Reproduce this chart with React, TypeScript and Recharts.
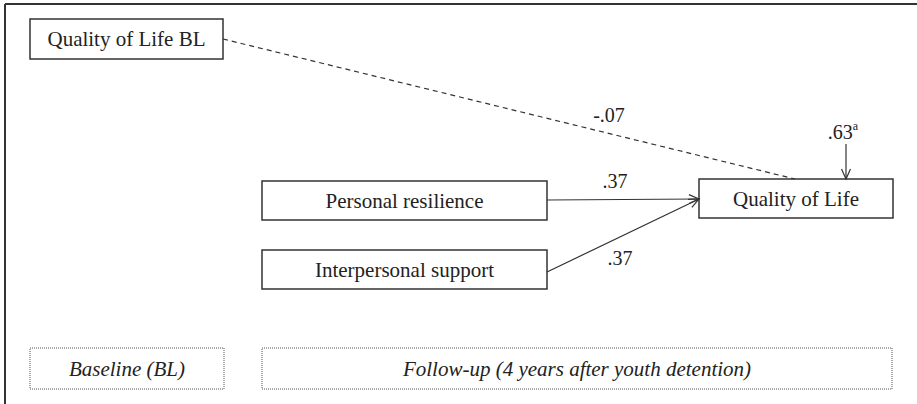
import React from 'react';
import { ComposedChart, XAxis, YAxis, ReferenceArea, ReferenceLine, ReferenceDot } from 'recharts';

// ---------- data ----------
const nodeNames = ['Quality of Life BL', 'Personal resilience', 'Interpersonal support', 'Quality of Life'];
const pathFrom = [0, 1, 2];
const pathTo = [3, 3, 3];
const pathCoefficients = ['-.07', '.37', '.37'];
const pathSignificant = [false, true, true];
const residualValue = '.63';
const residualNote = 'a';
const timeLabels = ['Baseline (BL)', 'Follow-up (4 years after youth detention)'];

// ---------- layout (chart units, linear axes) ----------
const W = 917;
const H = 404;
const nodeBoxes = [
  { x1: 30, x2: 223, y1: 19, y2: 59 },
  { x1: 262, x2: 547, y1: 181, y2: 220 },
  { x1: 262, x2: 547, y1: 250, y2: 289 },
  { x1: 699, x2: 893, y1: 179, y2: 218 },
];
const timeBoxes = [
  { x1: 30, x2: 224, y1: 348, y2: 389 },
  { x1: 262, x2: 892, y1: 348, y2: 389 },
];
const pathStarts = [{ x: 223, y: 39 }, { x: 547, y: 200 }, { x: 547, y: 272 }];
const pathEnds = [{ x: 795, y: 179 }, { x: 699, y: 199 }, { x: 699, y: 199 }];
const coefPositions = [{ x: 609, y: 122 }, { x: 615, y: 188 }, { x: 620, y: 265 }];
const residualArrow = { x: 846, yTop: 144, yBottom: 179 };
const residualLabel = { x: 843, y: 139 };

const FONT = '"Liberation Serif", "Times New Roman", Times, serif';
const INK = '#222';
const LINE = '#333';
const FS = 21;

const boxShape = (text: string, italic: boolean, dotted: boolean) => (p: any) => {
  const { x, y, width, height } = p;
  return (
    <g>
      <rect
        x={x}
        y={y}
        width={width}
        height={height}
        fill="#fff"
        stroke={dotted ? '#555' : LINE}
        strokeWidth={dotted ? 1 : 1.5}
        strokeDasharray={dotted ? '1 1' : undefined}
      />
      <text
        x={x + width / 2}
        y={y + height / 2 + FS * 0.35}
        textAnchor="middle"
        fontFamily={FONT}
        fontSize={FS}
        fontStyle={italic ? 'italic' : 'normal'}
        fill={INK}
      >
        {text}
      </text>
    </g>
  );
};

const arrowShape = (dashed: boolean, head: boolean) => (p: any) => {
  const { x1, y1, x2, y2 } = p;
  const ang = Math.atan2(y2 - y1, x2 - x1);
  const L = 11;
  const A = 0.42;
  const ax = x2 - L * Math.cos(ang - A);
  const ay = y2 - L * Math.sin(ang - A);
  const bx = x2 - L * Math.cos(ang + A);
  const by = y2 - L * Math.sin(ang + A);
  return (
    <g>
      <line
        x1={x1}
        y1={y1}
        x2={x2}
        y2={y2}
        stroke={LINE}
        strokeWidth={1.2}
        strokeDasharray={dashed ? '5 4' : undefined}
      />
      {head && (
        <polyline points={`${ax},${ay} ${x2},${y2} ${bx},${by}`} fill="none" stroke={LINE} strokeWidth={1.2} />
      )}
    </g>
  );
};

const textShape = (text: string, sup?: string) => (p: any) => (
  <text x={p.cx} y={p.cy} textAnchor="middle" fontFamily={FONT} fontSize={20} fill={INK}>
    {text}
    {sup && (
      <tspan fontSize={12} dy={-9}>
        {sup}
      </tspan>
    )}
  </text>
);

export default function App() {
  return (
    <div style={{ position: 'absolute', left: 0, top: 0, width: W, height: H, background: '#fff' }}>
      <ComposedChart width={W} height={H} margin={{ top: 0, right: 0, bottom: 0, left: 0 }} data={[]}>
        <XAxis type="number" dataKey="x" domain={[0, W]} hide allowDataOverflow />
        <YAxis type="number" dataKey="y" domain={[0, H]} reversed hide allowDataOverflow />

        {/* frame */}
        <ReferenceLine segment={[{ x: 5, y: 4 }, { x: W, y: 4 }]} stroke={LINE} strokeWidth={2} ifOverflow="visible" />
        <ReferenceLine segment={[{ x: 5, y: 4 }, { x: 5, y: H }]} stroke={LINE} strokeWidth={2} ifOverflow="visible" />

        {/* paths */}
        {pathFrom.map((f, i) => (
          <ReferenceLine
            key={`p${i}`}
            segment={[pathStarts[i], pathEnds[i]]}
            ifOverflow="visible"
            shape={arrowShape(!pathSignificant[i], pathSignificant[i])}
          />
        ))}
        <ReferenceLine
          segment={[
            { x: residualArrow.x, y: residualArrow.yTop },
            { x: residualArrow.x, y: residualArrow.yBottom },
          ]}
          ifOverflow="visible"
          shape={arrowShape(false, true)}
        />

        {/* nodes */}
        {nodeNames.map((n, i) => (
          <ReferenceArea
            key={`n${i}`}
            x1={nodeBoxes[i].x1}
            x2={nodeBoxes[i].x2}
            y1={nodeBoxes[i].y1}
            y2={nodeBoxes[i].y2}
            ifOverflow="visible"
            shape={boxShape(n, false, false)}
          />
        ))}
        {timeLabels.map((t, i) => (
          <ReferenceArea
            key={`t${i}`}
            x1={timeBoxes[i].x1}
            x2={timeBoxes[i].x2}
            y1={timeBoxes[i].y1}
            y2={timeBoxes[i].y2}
            ifOverflow="visible"
            shape={boxShape(t, true, true)}
          />
        ))}

        {/* coefficients */}
        {pathCoefficients.map((c, i) => (
          <ReferenceDot
            key={`c${i}`}
            x={coefPositions[i].x}
            y={coefPositions[i].y}
            r={0}
            ifOverflow="visible"
            shape={textShape(c)}
          />
        ))}
        <ReferenceDot
          x={residualLabel.x}
          y={residualLabel.y}
          r={0}
          ifOverflow="visible"
          shape={textShape(residualValue, residualNote)}
        />
      </ComposedChart>
    </div>
  );
}
